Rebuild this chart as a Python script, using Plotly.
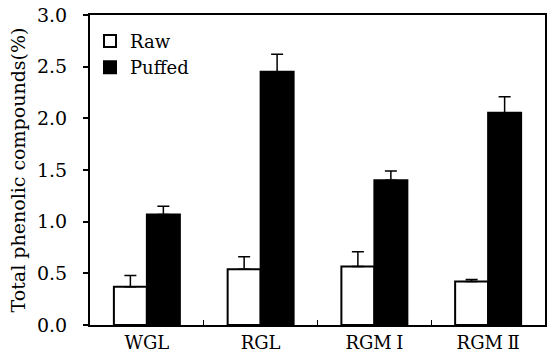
import plotly.graph_objects as go

categories = ["WGL", "RGL", "RGM I", "RGM II"]
raw_values = [0.37, 0.54, 0.565, 0.42]
raw_errors = [0.11, 0.12, 0.145, 0.02]
puffed_values = [1.07, 2.45, 1.40, 2.055]
puffed_errors = [0.08, 0.17, 0.09, 0.155]
y_ticks = [0.0, 0.5, 1.0, 1.5, 2.0, 2.5, 3.0]
y_tick_labels = ["0.0", "0.5", "1.0", "1.5", "2.0", "2.5", "3.0"]
x_tick_labels = ["WGL", "RGL", "RGM\u2005I", "RGM\u2005\u2161"]

font_family = "DejaVu Serif"

fig = go.Figure()
fig.add_trace(go.Bar(
    name="Raw", x=categories, y=raw_values,
    marker=dict(color="white", line=dict(color="black", width=2)),
    error_y=dict(type="data", symmetric=False, array=raw_errors,
                 arrayminus=[0] * len(raw_errors), color="black",
                 thickness=1.5, width=6),
))
fig.add_trace(go.Bar(
    name="Puffed", x=categories, y=puffed_values,
    marker=dict(color="black", line=dict(color="black", width=2)),
    error_y=dict(type="data", symmetric=False, array=puffed_errors,
                 arrayminus=[0] * len(puffed_errors), color="black",
                 thickness=1.5, width=6),
))

fig.update_layout(
    width=549, height=362,
    margin=dict(l=90, r=4, t=15, b=37, autoexpand=False),
    paper_bgcolor="white", plot_bgcolor="white",
    barmode="group", bargap=0.42, bargroupgap=0,
    font=dict(family=font_family, color="black", size=18),
    showlegend=True,
    legend=dict(x=0.0, y=0.975, xanchor="left", yanchor="top",
                bgcolor="rgba(0,0,0,0)", font=dict(size=18),
                itemwidth=30, tracegroupgap=0),
)
fig.update_xaxes(
    tickmode="array", tickvals=categories, ticktext=x_tick_labels,
    showline=True, linecolor="black", linewidth=2, mirror=True,
    ticks="inside", tickson="boundaries", ticklen=5, tickwidth=1,
    tickcolor="black", showgrid=False, tickfont=dict(size=18),
    automargin=False,
)
fig.update_yaxes(
    range=[0, 3.0], tickmode="array", tickvals=y_ticks, ticktext=y_tick_labels,
    showline=True, linecolor="black", linewidth=2, mirror=True,
    ticks="outside", ticklen=5, tickwidth=2, tickcolor="black",
    showgrid=False, zeroline=False, tickfont=dict(size=19),
    ticklabelstandoff=12,
    title=dict(text="Total phenolic compounds(%)", font=dict(size=19), standoff=6),
    automargin=False,
)

fig.write_html(
    "out.html",
    config={"displayModeBar": False},
    post_script="document.body.style.margin='0';document.body.style.overflow='hidden';",
)
